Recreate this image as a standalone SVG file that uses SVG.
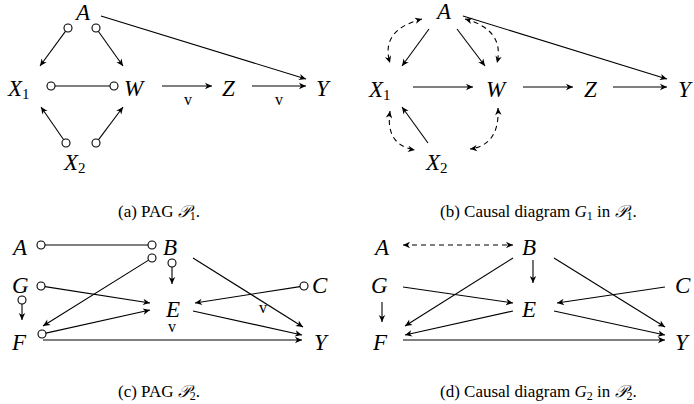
<svg xmlns="http://www.w3.org/2000/svg" width="694" height="404" viewBox="0 0 694 404">
<style>
.n{font-family:"Liberation Serif","Times New Roman",serif;font-style:italic;font-size:23px;fill:#000}
.s{font-size:15px;font-style:normal}
.cap{font-family:"Liberation Serif","Times New Roman",serif;font-size:17px;fill:#000}
.cs{font-size:12px}
.v{font-family:"Liberation Serif","Times New Roman",serif;font-size:16px;fill:#000;text-anchor:middle}
.e{stroke:#000;stroke-width:1.1;fill:none;marker-end:url(#ah)}
.p{stroke:#000;stroke-width:1.1;fill:none}
.d{stroke:#000;stroke-width:1.1;fill:none;stroke-dasharray:5 4;marker-end:url(#ah);marker-start:url(#ah)}
.c{fill:#fff;stroke:#000;stroke-width:1.1}
</style>
<defs>
<marker id="ah" viewBox="-8 -5 10 10" refX="0" refY="0" markerWidth="10" markerHeight="10" markerUnits="userSpaceOnUse" orient="auto-start-reverse">
<path d="M-7,-3.2 L0,0 L-7,3.2 L-5,0 z" fill="#000" stroke="none"/>
</marker>
</defs>
<g id="connectors">
<line class="e" x1="65.6" y1="31.2" x2="40" y2="66"/>
<line class="e" x1="98.3" y1="31.3" x2="123" y2="66"/>
<line class="p" x1="55" y1="86" x2="110" y2="86"/>
<line class="e" x1="162" y1="86" x2="212" y2="86"/>
<line class="e" x1="252" y1="86" x2="306" y2="86"/>
<line class="e" x1="101" y1="16" x2="306" y2="79"/>
<line class="e" x1="63.7" y1="139.7" x2="41" y2="107"/>
<line class="e" x1="98.4" y1="139.8" x2="123" y2="107"/>
<line class="e" x1="429" y1="29" x2="402" y2="66"/>
<line class="e" x1="457" y1="29" x2="485" y2="66"/>
<line class="e" x1="413" y1="87" x2="473" y2="87"/>
<line class="e" x1="523" y1="87" x2="573" y2="87"/>
<line class="e" x1="613" y1="87" x2="667" y2="87"/>
<line class="e" x1="463" y1="16" x2="667" y2="79"/>
<line class="e" x1="428" y1="143" x2="402" y2="107"/>
<path class="d" d="M422,19 Q380,30 390,63"/>
<path class="d" d="M465,19 Q505,30 497,63"/>
<path class="d" d="M390,111 Q385,145 415,150"/>
<path class="d" d="M498,108 Q500,145 470,149"/>
<line class="p" x1="45" y1="245" x2="148" y2="245"/>
<line class="e" x1="148.6" y1="260.1" x2="43" y2="326"/>
<line class="e" x1="172" y1="267" x2="172" y2="284"/>
<line class="e" x1="45" y1="286.6" x2="150" y2="303"/>
<line class="e" x1="22" y1="304" x2="22" y2="320"/>
<line class="e" x1="300" y1="286.6" x2="195" y2="303"/>
<line class="e" x1="193" y1="258" x2="303" y2="327"/>
<line class="e" x1="193" y1="311" x2="302" y2="335"/>
<line class="e" x1="45.9" y1="333.1" x2="150" y2="310"/>
<line class="e" x1="43" y1="340" x2="302" y2="340"/>
<line class="d" x1="403" y1="245" x2="513" y2="245"/>
<line class="e" x1="533" y1="260" x2="533" y2="283"/>
<line class="e" x1="382" y1="302" x2="382" y2="322"/>
<line class="e" x1="403" y1="287" x2="513" y2="303"/>
<line class="e" x1="513" y1="258" x2="405" y2="326"/>
<line class="e" x1="665" y1="287" x2="557" y2="303"/>
<line class="e" x1="513" y1="311" x2="405" y2="335"/>
<line class="e" x1="554" y1="258" x2="665" y2="327"/>
<line class="e" x1="554" y1="311" x2="665" y2="335"/>
<line class="e" x1="403" y1="340" x2="665" y2="340"/>
</g>
<g id="marks">
<circle class="c" cx="68" cy="28" r="4"/>
<circle class="c" cx="96" cy="28" r="4"/>
<circle class="c" cx="51" cy="86" r="4"/>
<circle class="c" cx="114" cy="86" r="4"/>
<circle class="c" cx="66" cy="143" r="4"/>
<circle class="c" cx="96" cy="143" r="4"/>
<circle class="c" cx="41" cy="245" r="4"/>
<circle class="c" cx="152" cy="245" r="4"/>
<circle class="c" cx="152" cy="258" r="4"/>
<circle class="c" cx="172" cy="263" r="4"/>
<circle class="c" cx="41" cy="286" r="4"/>
<circle class="c" cx="22" cy="300" r="4"/>
<circle class="c" cx="304" cy="286" r="4"/>
<circle class="c" cx="42" cy="334" r="4"/>
<text class="v" x="188" y="105">v</text>
<text class="v" x="279" y="105">v</text>
<text class="v" x="263" y="313">v</text>
<text class="v" x="172" y="332">v</text>
</g>
<g id="a-A"><text class="n" x="83" y="20" text-anchor="middle">A</text></g>
<g id="a-X1"><text class="n" x="8" y="96">X<tspan class="s" dy="3">1</tspan></text></g>
<g id="a-W"><text class="n" x="124" y="96">W</text></g>
<g id="a-Z"><text class="n" x="222" y="96">Z</text></g>
<g id="a-Y"><text class="n" x="316" y="96">Y</text></g>
<g id="a-X2"><text class="n" x="64" y="170">X<tspan class="s" dy="3">2</tspan></text></g>
<g id="b-A"><text class="n" x="444" y="19" text-anchor="middle">A</text></g>
<g id="b-X1"><text class="n" x="369" y="97">X<tspan class="s" dy="3">1</tspan></text></g>
<g id="b-W"><text class="n" x="486" y="97">W</text></g>
<g id="b-Z"><text class="n" x="584" y="97">Z</text></g>
<g id="b-Y"><text class="n" x="678" y="97">Y</text></g>
<g id="b-X2"><text class="n" x="426" y="170">X<tspan class="s" dy="3">2</tspan></text></g>
<g id="c-A"><text class="n" x="13" y="255">A</text></g>
<g id="c-B"><text class="n" x="163" y="255">B</text></g>
<g id="c-G"><text class="n" x="12" y="293">G</text></g>
<g id="c-E"><text class="n" x="166" y="317">E</text></g>
<g id="c-F"><text class="n" x="12" y="350">F</text></g>
<g id="c-C"><text class="n" x="312" y="293">C</text></g>
<g id="c-Y"><text class="n" x="314" y="350">Y</text></g>
<g id="d-A"><text class="n" x="375" y="255">A</text></g>
<g id="d-B"><text class="n" x="522" y="255">B</text></g>
<g id="d-G"><text class="n" x="371" y="293">G</text></g>
<g id="d-E"><text class="n" x="522" y="317">E</text></g>
<g id="d-F"><text class="n" x="373" y="350">F</text></g>
<g id="d-C"><text class="n" x="675" y="293">C</text></g>
<g id="d-Y"><text class="n" x="675" y="350">Y</text></g>
<g id="captions">
<text class="cap" x="118" y="217">(a) PAG <tspan font-style="italic">𝒫</tspan><tspan class="cs" dy="2.5">1</tspan><tspan dy="-2.5">.</tspan></text>
<text class="cap" x="440" y="217">(b) Causal diagram <tspan font-style="italic">G</tspan><tspan class="cs" dy="2.5">1</tspan><tspan dy="-2.5"> in </tspan><tspan font-style="italic">𝒫</tspan><tspan class="cs" dy="2.5">1</tspan><tspan dy="-2.5">.</tspan></text>
<text class="cap" x="118" y="397">(c) PAG <tspan font-style="italic">𝒫</tspan><tspan class="cs" dy="2.5">2</tspan><tspan dy="-2.5">.</tspan></text>
<text class="cap" x="440" y="397">(d) Causal diagram <tspan font-style="italic">G</tspan><tspan class="cs" dy="2.5">2</tspan><tspan dy="-2.5"> in </tspan><tspan font-style="italic">𝒫</tspan><tspan class="cs" dy="2.5">2</tspan><tspan dy="-2.5">.</tspan></text>
</g>
</svg>
